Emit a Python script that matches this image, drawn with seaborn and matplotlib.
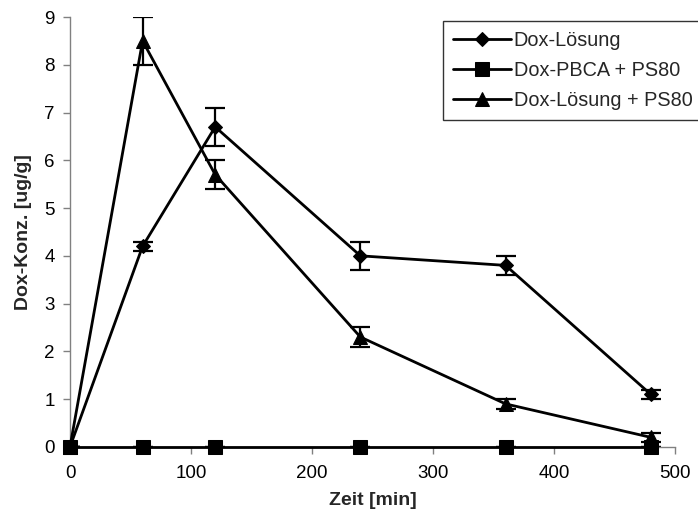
import matplotlib
matplotlib.use("Agg")
import matplotlib.pyplot as plt
import seaborn as sns
import pandas as pd

# Measurement times and concentrations
zeit = [0, 60, 120, 240, 360, 480]
dox_loesung = [0, 4.2, 6.7, 4.0, 3.8, 1.1]
dox_loesung_err = [0, 0.1, 0.4, 0.3, 0.2, 0.1]
dox_pbca_ps80 = [0, 0, 0, 0, 0, 0]
dox_pbca_ps80_err = [0, 0, 0, 0, 0, 0]
dox_loesung_ps80 = [0, 8.5, 5.7, 2.3, 0.9, 0.2]
dox_loesung_ps80_err = [0, 0.5, 0.3, 0.2, 0.1, 0.1]

series_names = ["Dox-Lösung", "Dox-PBCA + PS80", "Dox-Lösung + PS80"]
series_values = [dox_loesung, dox_pbca_ps80, dox_loesung_ps80]
series_errors = [dox_loesung_err, dox_pbca_ps80_err, dox_loesung_ps80_err]
markers = ["D", "s", "^"]
marker_sizes = [7, 10, 10]

sns.set_theme(style="white")
plt.rcParams["font.family"] = ["Liberation Sans", "DejaVu Sans"]

rows = []
for name, vals in zip(series_names, series_values):
    for t, v in zip(zeit, vals):
        rows.append({"Zeit": t, "Konz": v, "Serie": name})
df = pd.DataFrame(rows)

fig = plt.figure(figsize=(6.98, 5.32), dpi=100)
ax = fig.add_axes([0.1003, 0.160, 0.8667, 0.808])

for name, vals, errs, mk, ms in zip(series_names, series_values, series_errors, markers, marker_sizes):
    sub = df[df["Serie"] == name]
    ax.errorbar(sub["Zeit"], sub["Konz"], yerr=errs, fmt="none",
                ecolor="black", elinewidth=1.6, capsize=7, capthick=1.6, zorder=2)
    sns.lineplot(data=sub, x="Zeit", y="Konz", ax=ax, color="black",
                 linewidth=2, marker=mk, markersize=ms, markeredgecolor="black",
                 markerfacecolor="black", label=name, zorder=3, clip_on=False)

ax.set_xlim(0, 500)
ax.set_ylim(0, 9)
ax.set_xticks([0, 100, 200, 300, 400, 500])
ax.set_yticks(range(0, 10))
ax.set_xlabel("Zeit [min]", fontsize=14, fontweight="bold", labelpad=7)
ax.set_ylabel("Dox-Konz. [ug/g]", fontsize=14, fontweight="bold", labelpad=9)

for side in ["top", "right"]:
    ax.spines[side].set_visible(False)
for side in ["left", "bottom"]:
    ax.spines[side].set_color("#808080")
    ax.spines[side].set_linewidth(1)

ax.tick_params(axis="both", which="major", direction="out", length=5, width=1,
               color="#808080", labelsize=13.5, labelcolor="black", left=True, bottom=True)
ax.tick_params(axis="x", pad=8)
ax.tick_params(axis="y", pad=6)

leg = ax.legend(loc="upper left", bbox_to_anchor=(443 / 698, 1 - 21 / 532),
                bbox_transform=fig.transFigure, frameon=True, fancybox=False,
                fontsize=14.3, handlelength=2.9, borderpad=0.5, labelspacing=0.55,
                handletextpad=0.15, borderaxespad=0)
leg.get_frame().set_edgecolor("black")
leg.get_frame().set_linewidth(1)

fig.savefig("out.png", dpi=100)
